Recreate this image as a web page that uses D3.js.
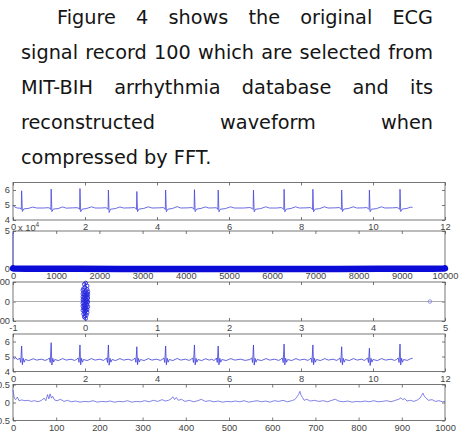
<!DOCTYPE html>
<html>
<head>
<meta charset="utf-8">
<script src="https://cdn.jsdelivr.net/npm/d3@7"></script>
<style>
body { margin: 0; background: #fff; }
svg { display: block; }
.para { font-family: "DejaVu Sans", sans-serif; font-size: 19.3px; fill: #151515; }
.axis text { font-family: "Liberation Sans", Arial, sans-serif; font-size: 9.3px; fill: #444; }
.axis line { stroke: #555; stroke-width: 0.8; }
.axis path { display: none; }
</style>
</head>
<body>
<svg id="fig" width="460" height="442"></svg>
<script>
// paragraph above the figure
var paraLines = [
    "Figure 4 shows the original ECG",
    "signal record 100 which are selected from",
    "MIT-BIH arrhythmia database and its",
    "reconstructed waveform when",
    "compressed by FFT."
];

// panel 1: original ECG (time, mV)
var origSig = [
    [0.00,4.98],[0.05,4.86],[0.12,4.80],[0.20,4.79],[0.23,4.71],[0.24,5.95],[0.26,4.57],[0.30,4.74],[0.42,4.77],[0.55,4.86],[0.66,4.80],[0.85,4.80],[0.98,4.82],
    [1.03,4.78],[1.05,4.70],[1.06,6.06],[1.08,4.56],[1.12,4.73],[1.25,4.76],[1.38,4.87],[1.48,4.79],[1.65,4.81],[1.78,4.82],
    [1.83,4.78],[1.85,4.70],[1.86,6.10],[1.88,4.55],[1.92,4.72],[2.05,4.77],[2.18,4.88],[2.28,4.80],[2.45,4.80],[2.58,4.82],
    [2.62,4.77],[2.64,4.70],[2.65,6.00],[2.67,4.50],[2.71,4.72],[2.84,4.76],[2.97,4.87],[3.07,4.80],[3.25,4.81],[3.37,4.83],
    [3.41,4.78],[3.43,4.70],[3.44,5.90],[3.46,4.56],[3.50,4.73],[3.63,4.77],[3.76,4.88],[3.86,4.80],[4.05,4.81],[4.17,4.83],
    [4.21,4.78],[4.23,4.70],[4.24,6.00],[4.26,4.55],[4.30,4.72],[4.43,4.77],[4.56,4.89],[4.66,4.80],[4.85,4.81],[4.97,4.83],
    [5.01,4.78],[5.03,4.70],[5.04,6.02],[5.06,4.56],[5.10,4.73],[5.22,4.77],[5.34,4.87],[5.44,4.80],[5.58,4.81],[5.64,4.82],
    [5.67,4.78],[5.69,4.70],[5.70,6.00],[5.72,4.55],[5.76,4.72],[5.90,4.76],[6.04,4.88],[6.15,4.80],[6.40,4.80],[6.58,4.83],
    [6.64,4.78],[6.67,4.70],[6.68,6.00],[6.70,4.55],[6.74,4.72],[6.88,4.76],[7.02,4.88],[7.12,4.80],[7.33,4.80],[7.45,4.83],
    [7.49,4.78],[7.52,4.70],[7.53,6.05],[7.55,4.55],[7.59,4.72],[7.72,4.77],[7.85,4.88],[7.95,4.80],[8.14,4.81],[8.26,4.83],
    [8.29,4.78],[8.32,4.70],[8.33,6.05],[8.35,4.55],[8.39,4.72],[8.52,4.76],[8.65,4.88],[8.75,4.80],[8.94,4.81],[9.06,4.83],
    [9.09,4.78],[9.12,4.70],[9.13,6.00],[9.15,4.56],[9.19,4.73],[9.32,4.77],[9.45,4.88],[9.55,4.80],[9.72,4.81],[9.83,4.83],
    [9.86,4.78],[9.89,4.70],[9.90,6.00],[9.92,4.55],[9.96,4.72],[10.10,4.76],[10.23,4.88],[10.33,4.80],[10.55,4.81],[10.67,4.83],
    [10.71,4.78],[10.74,4.70],[10.75,6.05],[10.77,4.56],[10.81,4.73],[10.94,4.77],[11.05,4.86],[11.10,4.84]
];

// panel 2: FFT magnitude (index, value)
var fftIdx = [0, 1, 20, 300, 800, 1500, 2500, 3500, 4500, 5000, 5500, 6500, 7500, 8500, 9200, 9700, 9980, 9999];
var fftMag = [48500, 900, 700, 450, 300, 200, 150, 120, 100, 90, 100, 120, 150, 200, 300, 450, 700, 900];

// panel 3: coefficients (real, imag)
var coefPts = [
    [0.01,95],[-0.01,88],[0.03,80],[0.00,73],[-0.02,67],[0.03,62],[-0.03,58],[0.01,55],[0.04,51],[-0.02,48],
    [0.00,45],[0.03,42],[-0.03,39],[0.04,36],[-0.01,33],[0.01,30],[0.03,27],[-0.03,24],[0.00,21],[0.04,18],
    [-0.02,15],[0.02,12],[-0.03,9],[0.03,6],[0.00,3],[-0.02,0],[0.04,-3],[0.01,-6],[-0.03,-9],[0.02,-12],
    [-0.01,-15],[0.03,-18],[0.00,-21],[-0.03,-24],[0.04,-27],[0.01,-30],[-0.02,-33],[0.02,-36],[0.00,-39],[0.03,-42],
    [-0.03,-45],[0.01,-48],[-0.01,-52],[0.03,-56],[0.00,-60],[-0.02,-64],[0.02,-69],[0.00,-74],[-0.01,-80],[0.01,-87],
    [0.02,-3],[-0.01,20],[0.02,36],[-0.01,-38],[0.01,10],[-0.01,-20],
    [4.79,0]
];

// panel 4: reconstructed ECG
var reconSig = [
    [0.00,4.95],[0.04,4.86],[0.08,4.92],[0.12,4.80],[0.17,4.84],
    [0.19,4.90],[0.215,4.60],[0.24,5.70],[0.26,4.45],[0.285,4.88],[0.31,4.62],[0.34,4.80],[0.44,4.73],[0.56,4.85],[0.66,4.76],[0.79,4.82],[0.89,4.74],[0.96,4.80],
    [1.01,4.90],[1.035,4.60],[1.06,5.92],[1.08,4.43],[1.105,4.88],[1.13,4.63],[1.16,4.80],[1.26,4.73],[1.38,4.86],[1.48,4.76],[1.61,4.82],[1.71,4.74],[1.76,4.80],
    [1.81,4.90],[1.835,4.61],[1.86,5.77],[1.88,4.45],[1.905,4.88],[1.93,4.62],[1.96,4.80],[2.06,4.73],[2.18,4.86],[2.28,4.76],[2.41,4.82],[2.51,4.74],[2.55,4.80],
    [2.60,4.90],[2.625,4.60],[2.65,5.77],[2.67,4.42],[2.695,4.88],[2.72,4.62],[2.75,4.80],[2.85,4.73],[2.97,4.86],[3.07,4.76],[3.20,4.82],[3.30,4.74],[3.34,4.80],
    [3.39,4.90],[3.415,4.61],[3.44,5.65],[3.46,4.45],[3.485,4.88],[3.51,4.63],[3.54,4.80],[3.64,4.73],[3.76,4.86],[3.86,4.76],[3.99,4.82],[4.09,4.74],[4.14,4.80],
    [4.19,4.90],[4.215,4.60],[4.24,5.70],[4.26,4.44],[4.285,4.88],[4.31,4.62],[4.34,4.80],[4.44,4.73],[4.56,4.87],[4.66,4.76],[4.79,4.82],[4.89,4.74],[4.94,4.80],
    [4.99,4.90],[5.015,4.60],[5.04,5.77],[5.06,4.44],[5.085,4.88],[5.11,4.62],[5.14,4.80],[5.24,4.73],[5.35,4.85],[5.45,4.76],[5.52,4.81],[5.58,4.74],[5.62,4.80],
    [5.65,4.90],[5.675,4.60],[5.70,5.70],[5.72,4.44],[5.745,4.88],[5.77,4.62],[5.80,4.80],[5.92,4.73],[6.05,4.86],[6.16,4.76],[6.32,4.82],[6.45,4.74],[6.58,4.80],
    [6.63,4.90],[6.655,4.60],[6.68,5.77],[6.70,4.43],[6.725,4.88],[6.75,4.62],[6.78,4.80],[6.90,4.73],[7.03,4.86],[7.13,4.76],[7.27,4.82],[7.38,4.74],[7.43,4.80],
    [7.48,4.90],[7.505,4.60],[7.53,5.83],[7.55,4.44],[7.575,4.88],[7.60,4.62],[7.63,4.80],[7.74,4.73],[7.86,4.86],[7.96,4.76],[8.09,4.82],[8.19,4.74],[8.23,4.80],
    [8.28,4.90],[8.305,4.60],[8.33,5.77],[8.35,4.45],[8.375,4.88],[8.40,4.62],[8.43,4.80],[8.54,4.73],[8.66,4.86],[8.76,4.76],[8.89,4.82],[8.99,4.74],[9.03,4.80],
    [9.08,4.90],[9.105,4.60],[9.13,5.65],[9.15,4.44],[9.175,4.88],[9.20,4.62],[9.23,4.80],[9.34,4.73],[9.46,4.86],[9.56,4.76],[9.68,4.82],[9.76,4.74],[9.80,4.80],
    [9.85,4.90],[9.875,4.60],[9.90,5.55],[9.92,4.40],[9.945,4.88],[9.97,4.62],[10.00,4.80],[10.12,4.73],[10.24,4.86],[10.35,4.76],[10.50,4.82],[10.60,4.74],[10.65,4.80],
    [10.70,4.90],[10.725,4.60],[10.75,5.83],[10.77,4.44],[10.795,4.88],[10.82,4.62],[10.85,4.80],[10.95,4.74],[11.05,4.86],[11.10,4.88]
];

// panel 5: reconstruction error (sample, value)
var errSig = [
    [0,0.35],[3,0.12],[6,0.08],[10,0.15],[14,0.05],[20,0.07],[28,0.05],[35,0.06],[42,0.03],[50,0.05],[58,0.02],[66,0.06],
    [72,0.12],[76,0.05],[80,0.22],[83,0.10],[86,0.24],[89,0.12],[92,0.17],[96,0.07],[102,0.05],[110,0.09],[118,0.03],[126,0.06],
    [135,0.02],[145,0.04],[155,0.01],[165,0.03],[175,0.02],[185,0.05],[195,0.01],[205,0.03],[215,0.02],[225,0.04],[235,0.01],
    [245,0.03],[255,0.02],[265,0.05],[275,0.01],[285,0.03],[295,0.02],[305,0.05],[315,0.02],[325,0.06],[335,0.03],[345,0.08],
    [352,0.04],[360,0.06],[366,0.10],[370,0.16],[374,0.08],[378,0.14],[383,0.06],[390,0.09],[398,0.03],[408,0.06],[418,0.02],
    [428,0.05],[436,0.09],[445,0.03],[455,0.05],[465,0.02],[475,0.04],[485,0.01],[495,0.03],[505,0.02],[515,0.04],[525,0.02],
    [535,0.05],[545,0.01],[555,0.03],[565,0.05],[575,0.02],[585,0.04],[595,0.01],[605,0.05],[615,0.03],[625,0.06],[635,0.02],
    [645,0.05],[652,0.08],[657,0.15],[661,0.22],[664,0.31],[667,0.20],[670,0.14],[674,0.06],[680,0.09],[688,0.04],[698,0.06],
    [708,0.03],[718,0.05],[728,0.02],[738,0.06],[746,0.09],[754,0.04],[764,0.02],[775,0.04],[785,0.01],[795,0.03],[805,0.02],
    [815,0.04],[825,0.02],[835,0.05],[845,0.02],[855,0.03],[865,0.05],[875,0.02],[885,0.06],[893,0.09],[898,0.13],[902,0.08],
    [907,0.11],[912,0.04],[920,0.06],[928,0.03],[936,0.07],[942,0.12],[946,0.20],[949,0.26],[952,0.18],[956,0.12],[962,0.06],
    [970,0.08],[978,0.03],[986,0.05],[994,0.02],[1000,0.03]
];

// tick values
var ecgXTicks = [0, 2, 4, 6, 8, 10, 12];
var ecgYTicks = [4, 5, 6];
var fftXTicks = [0, 1000, 2000, 3000, 4000, 5000, 6000, 7000, 8000, 9000, 10000];
var fftYTicks = [0, 50000];
var coefXTicks = [-1, 0, 1, 2, 3, 4, 5];
var coefYTicks = [-100, 0, 100];
var errXTicks = [0, 100, 200, 300, 400, 500, 600, 700, 800, 900, 1000];
var errYTicks = [-0.5, 0, 0.5];

var svg = d3.select("#fig");
var plotLeft = 13, plotRight = 445;

// --- paragraph, justified word by word ---
var textLeft = 21, textRight = 433;
paraLines.forEach(function(line, i) {
    var words = line.split(" ");
    var y = 23.5 + i * 35.2;
    var x0 = i === 0 ? 57 : textLeft;
    var nodes = words.map(function(w) {
        return svg.append("text").attr("class", "para").attr("y", y).text(w);
    });
    var widths = nodes.map(function(n) { return n.node().getComputedTextLength(); });
    var gap = 6.1;
    if (i < paraLines.length - 1) {
        gap = (textRight - x0 - d3.sum(widths)) / (words.length - 1);
    }
    var x = x0;
    nodes.forEach(function(n, j) {
        n.attr("x", x);
        x += widths[j] + gap;
    });
});

function fmt(d) { return String(d); }

function makePanel(top, bottom, xDomain, yDomain, xTicks, yTicks, yFormat) {
    var x = d3.scaleLinear().domain(xDomain).range([plotLeft, plotRight]);
    var y = d3.scaleLinear().domain(yDomain).range([bottom, top]);
    var g = svg.append("g");

    g.append("g").attr("class", "axis")
        .attr("transform", "translate(0," + bottom + ")")
        .call(d3.axisBottom(x).tickValues(xTicks).tickSize(-3).tickPadding(3.4).tickFormat(fmt));
    g.append("g").attr("class", "axis")
        .attr("transform", "translate(0," + top + ")")
        .call(d3.axisTop(x).tickValues(xTicks).tickSize(-3).tickFormat(""));
    g.append("g").attr("class", "axis")
        .attr("transform", "translate(" + plotLeft + ",0)")
        .call(d3.axisLeft(y).tickValues(yTicks).tickSize(-3).tickPadding(3).tickFormat(yFormat || fmt));
    g.append("g").attr("class", "axis")
        .attr("transform", "translate(" + plotRight + ",0)")
        .call(d3.axisRight(y).tickValues(yTicks).tickSize(-3).tickFormat(""));

    g.append("rect")
        .attr("x", plotLeft).attr("y", top)
        .attr("width", plotRight - plotLeft).attr("height", bottom - top)
        .attr("fill", "none").attr("stroke", "#555").attr("stroke-width", 0.8);

    return {g: g, x: x, y: y};
}

// panel 1
var p1 = makePanel(182.5, 220, [0, 12], [4, 6.5], ecgXTicks, ecgYTicks);
p1.g.append("path")
    .datum(origSig)
    .attr("fill", "none").attr("stroke", "#4646dc").attr("stroke-width", 0.8)
    .attr("d", d3.line().x(function(d) { return p1.x(d[0]); }).y(function(d) { return p1.y(d[1]); }));

// panel 2
var p2 = makePanel(231, 269, [0, 10000], [0, 50000], fftXTicks, fftYTicks,
    function(d) { return String(d / 10000); });
var fftData = fftIdx.map(function(d, i) { return [d, fftMag[i]]; });
var fftLine = d3.line().x(function(d) { return p2.x(d[0]); }).y(function(d) { return p2.y(d[1]); });
p2.g.append("path")
    .datum(fftData.slice(0, 2))
    .attr("fill", "none").attr("stroke", "#5a5ae0").attr("stroke-width", 0.9)
    .attr("d", fftLine);
p2.g.append("path")
    .datum(fftData.slice(1))
    .attr("fill", "none").attr("stroke", "#0b0bd8").attr("stroke-width", 6.5)
    .attr("stroke-linecap", "round")
    .attr("d", fftLine);
svg.append("text").attr("class", "axis")
    .attr("x", 18).attr("y", 230.5)
    .style("font-family", "Liberation Sans, Arial, sans-serif").style("font-size", "9.3px").style("fill", "#444")
    .text("x 10")
    .append("tspan").attr("dy", -3.5).style("font-size", "6.5px").text("4");

// panel 3
var p3 = makePanel(282, 321, [-1, 5], [-100, 100], coefXTicks, coefYTicks);
p3.g.append("line")
    .attr("x1", plotLeft).attr("x2", plotRight)
    .attr("y1", p3.y(0)).attr("y2", p3.y(0))
    .attr("stroke", "#999").attr("stroke-width", 0.8);
p3.g.selectAll("circle")
    .data(coefPts)
    .enter().append("circle")
    .attr("cx", function(d) { return p3.x(d[0]); })
    .attr("cy", function(d) { return p3.y(d[1]); })
    .attr("r", 1.8)
    .attr("fill", "none")
    .attr("stroke", function(d, i) { return i === coefPts.length - 1 ? "#8a8ae8" : "#2a2ae0"; })
    .attr("stroke-width", 0.9);

// panel 4
var p4 = makePanel(334, 371.5, [0, 12], [4, 6.5], ecgXTicks, ecgYTicks);
p4.g.append("path")
    .datum(reconSig)
    .attr("fill", "none").attr("stroke", "#3c3cd8").attr("stroke-width", 0.8)
    .attr("d", d3.line().x(function(d) { return p4.x(d[0]); }).y(function(d) { return p4.y(d[1]); }));

// panel 5
var p5 = makePanel(384.5, 420.5, [0, 1000], [-0.5, 0.5], errXTicks, errYTicks);
p5.g.append("path")
    .datum(errSig)
    .attr("fill", "none").attr("stroke", "#5a5ae0").attr("stroke-width", 0.75)
    .attr("d", d3.line().x(function(d) { return p5.x(d[0]); }).y(function(d) { return p5.y(d[1]); }));
</script>
</body>
</html>
